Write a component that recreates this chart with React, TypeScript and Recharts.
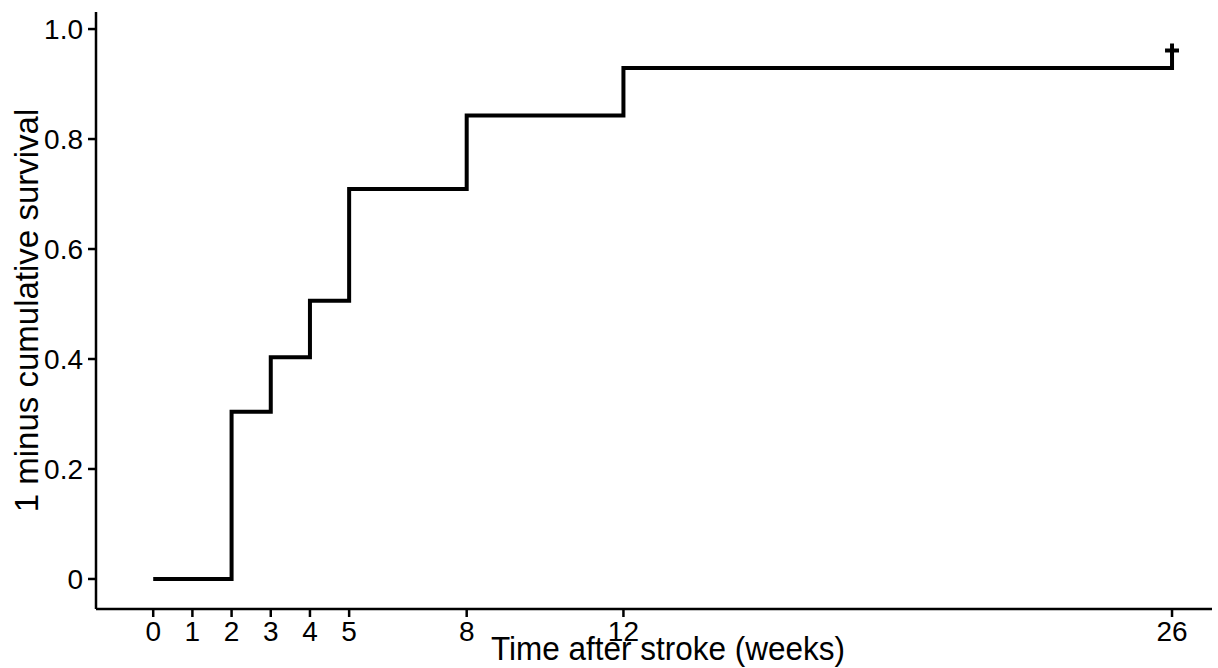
import React from 'react';
import { LineChart, Line, XAxis, YAxis, Label } from 'recharts';

// Kaplan-Meier style step curve: 1 minus cumulative survival
const weeks = [0, 2, 3, 4, 5, 8, 12, 26];
const cumulative = [0, 0.304, 0.403, 0.506, 0.709, 0.843, 0.929, 0.961];
const xTicks = [0, 1, 2, 3, 4, 5, 8, 12, 26];
const yTicks = [0, 0.2, 0.4, 0.6, 0.8, 1.0];
const yTickLabels = ['0', '0.2', '0.4', '0.6', '0.8', '1.0'];

const data = weeks.map((w, i) => ({ week: w, value: cumulative[i] }));

const font = '"Liberation Sans", Arial, Helvetica, sans-serif';

const CensorDot = (props: any) => {
    const { cx, cy, index } = props;
    if (index !== data.length - 1 || cx == null || cy == null) return null;
    return (
        <g key={`censor-${index}`}>
            <line x1={cx - 7} y1={cy} x2={cx + 7} y2={cy} stroke="#000" strokeWidth={4} />
            <line x1={cx} y1={cy - 7} x2={cx} y2={cy + 7} stroke="#000" strokeWidth={4} />
        </g>
    );
};

export default function App() {
    return (
        <div style={{ position: 'absolute', left: 0, top: 0, width: 1218, height: 668, background: '#fff' }}>
            <LineChart
                width={1218}
                height={668}
                data={data}
                margin={{ top: 12, right: 6, bottom: 0, left: 0 }}
            >
                <XAxis
                    dataKey="week"
                    type="number"
                    domain={[-1.46, 27.02]}
                    ticks={xTicks}
                    interval={0}
                    height={59}
                    tickSize={8}
                    tickMargin={4}
                    axisLine={{ stroke: '#000', strokeWidth: 2.5 }}
                    tickLine={{ stroke: '#000', strokeWidth: 2.5 }}
                    tick={{ fill: '#000', fontSize: 28, fontFamily: font }}
                >
                    <Label
                        content={(props: any) => {
                            const vb = props.viewBox || {};
                            return (
                                <text
                                    x={vb.x + vb.width / 2 + 14}
                                    y={vb.y + 51}
                                    textAnchor="middle"
                                    fontSize={34}
                                    fontFamily={font}
                                    fill="#000"
                                    textLength={354}
                                    lengthAdjust="spacingAndGlyphs"
                                >
                                    Time after stroke (weeks)
                                </text>
                            );
                        }}
                    />
                </XAxis>
                <YAxis
                    type="number"
                    domain={[-0.0546, 1.031]}
                    ticks={yTicks}
                    interval={0}
                    width={96}
                    tickSize={8}
                    tickMargin={5}
                    tickFormatter={(v: number) => yTickLabels[yTicks.indexOf(v)] ?? String(v)}
                    axisLine={{ stroke: '#000', strokeWidth: 2.5 }}
                    tickLine={{ stroke: '#000', strokeWidth: 2.5 }}
                    tick={{ fill: '#000', fontSize: 28, fontFamily: font }}
                >
                    <Label
                        content={(props: any) => {
                            const vb = props.viewBox || {};
                            const cy = vb.y + vb.height / 2;
                            return (
                                <text
                                    x={38}
                                    y={cy}
                                    transform={`rotate(-90, 38, ${cy})`}
                                    textAnchor="middle"
                                    fontSize={33}
                                    fontFamily={font}
                                    fill="#000"
                                >
                                    1 minus cumulative survival
                                </text>
                            );
                        }}
                    />
                </YAxis>
                <Line
                    type="stepAfter"
                    dataKey="value"
                    stroke="#000"
                    strokeWidth={4}
                    dot={CensorDot}
                    activeDot={false}
                    isAnimationActive={false}
                />
            </LineChart>
        </div>
    );
}
